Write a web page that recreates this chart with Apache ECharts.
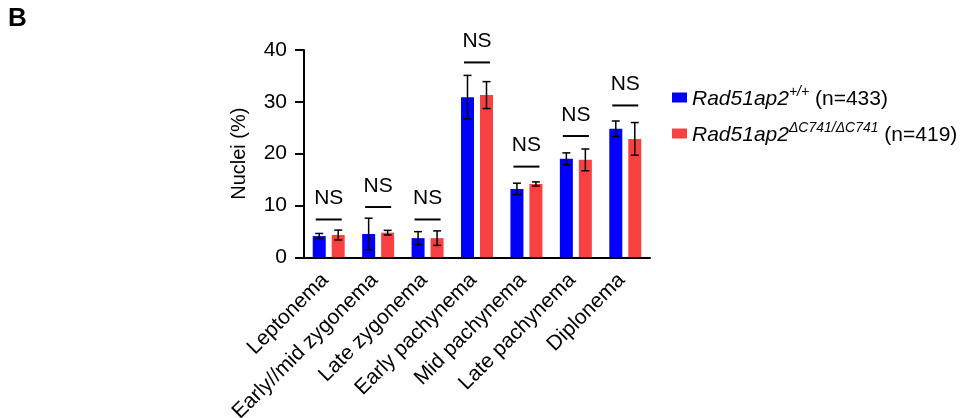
<!DOCTYPE html>
<html>
<head>
<meta charset="utf-8">
<script src="https://cdn.jsdelivr.net/npm/echarts@6/dist/echarts.min.js"></script>
<style>
html,body{margin:0;padding:0;background:#fff;}
#chart{width:964px;height:418px;}
</style>
</head>
<body>
<div id="chart"></div>
<script>
var categories = ['Leptonema', 'Early//mid zygonema', 'Late zygonema', 'Early pachynema', 'Mid pachynema', 'Late pachynema', 'Diplonema'];
var wtMean = [4.1, 4.5, 3.7, 30.9, 13.2, 19.0, 24.8];
var wtSd = [0.5, 3.05, 1.25, 4.2, 1.1, 1.15, 1.5];
var mutMean = [4.3, 4.75, 3.7, 31.3, 14.15, 18.8, 22.85];
var mutSd = [0.95, 0.45, 1.4, 2.6, 0.4, 2.1, 3.15];
var nsHeight = [7.3, 9.7, 7.3, 37.6, 17.5, 23.4, 29.3];
var nsLabel = 'NS';
var yTicks = [0, 10, 20, 30, 40];
var seriesNames = ['wt', 'mut'];
var legendParts = {
  wt: {gene: 'Rad51ap2', sup: '+/+', n: ' (n=433)'},
  mut: {gene: 'Rad51ap2', sup: '\u0394C741/\u0394C741', n: ' (n=419)'}
};

var FONT = 'Liberation Sans, Arial, sans-serif';
var BLUE = '#0000FF';
var RED = '#F94141';
var BAR_W = 13;
var OFFSET = 9.5;

function errData(means, sds) {
  return means.map(function (m, i) { return [i, m, sds[i]]; });
}

function errRenderer(dx) {
  return function (params, api) {
    var i = api.value(0), m = api.value(1), s = api.value(2);
    var top = api.coord([i, m + s]);
    var bot = api.coord([i, m - s]);
    var x = top[0] + dx;
    var cap = 4;
    var st = {stroke: '#000', lineWidth: 1.5};
    return {
      type: 'group',
      children: [
        {type: 'line', shape: {x1: x, y1: top[1], x2: x, y2: bot[1]}, style: st},
        {type: 'line', shape: {x1: x - cap, y1: top[1], x2: x + cap, y2: top[1]}, style: st},
        {type: 'line', shape: {x1: x - cap, y1: bot[1], x2: x + cap, y2: bot[1]}, style: st}
      ]
    };
  };
}

var chart = echarts.init(document.getElementById('chart'), null, {renderer: 'canvas'});
chart.setOption({
  animation: false,
  textStyle: {fontFamily: FONT},
  graphic: [{
    type: 'text', left: 8, top: 6,
    style: {text: 'B', font: 'bold 26px ' + FONT, fill: '#000'}
  }],
  grid: {left: 304, width: 346, top: 50, bottom: 160.7, containLabel: false, outerBoundsMode: 'none'},
  legend: {
    orient: 'vertical',
    left: 667, top: 80,
    itemWidth: 15, itemHeight: 10, itemGap: 11,
    icon: 'rect',
    data: seriesNames,
    formatter: function (name) {
      var p = legendParts[name];
      return '{g|' + p.gene + '}{s|' + p.sup + '}{n|' + p.n + '}';
    },
    textStyle: {
      fontFamily: FONT,
      padding: [0, 0, 0, 0],
      rich: {
        g: {fontFamily: FONT, fontStyle: 'italic', fontSize: 21, color: '#000', verticalAlign: 'bottom', lineHeight: 25},
        s: {fontFamily: FONT, fontStyle: 'italic', fontSize: 14, color: '#000', verticalAlign: 'top', lineHeight: 20},
        n: {fontFamily: FONT, fontSize: 21, color: '#000', verticalAlign: 'bottom', lineHeight: 25}
      }
    }
  },
  xAxis: {
    type: 'category',
    data: categories,
    axisLine: {lineStyle: {color: '#000', width: 2}},
    axisTick: {alignWithLabel: true, length: 8, lineStyle: {color: '#000', width: 2}},
    axisLabel: {rotate: 45, interval: 0, margin: 16, padding: [0, 5, 0, 0], fontSize: 21, color: '#000', fontFamily: FONT}
  },
  yAxis: {
    type: 'value',
    min: yTicks[0], max: yTicks[yTicks.length - 1], interval: 10,
    name: 'Nuclei (%)',
    nameLocation: 'middle',
    nameGap: 55,
    nameTextStyle: {fontSize: 20, color: '#000', fontFamily: FONT},
    axisLine: {show: true, lineStyle: {color: '#000', width: 2}},
    axisTick: {show: true, length: 9, lineStyle: {color: '#000', width: 2}},
    axisLabel: {margin: 17, fontSize: 21, color: '#000', fontFamily: FONT},
    splitLine: {show: false}
  },
  series: [
    {name: 'wt', type: 'bar', data: wtMean, barWidth: BAR_W, barGap: '46%', itemStyle: {color: BLUE}},
    {name: 'mut', type: 'bar', data: mutMean, barWidth: BAR_W, barGap: '46%', itemStyle: {color: RED}},
    {type: 'custom', data: errData(wtMean, wtSd), renderItem: errRenderer(-OFFSET), z: 5, silent: true},
    {type: 'custom', data: errData(mutMean, mutSd), renderItem: errRenderer(OFFSET), z: 5, silent: true},
    {
      type: 'custom', z: 5, silent: true,
      data: nsHeight.map(function (h, i) { return [i, h]; }),
      renderItem: function (params, api) {
        var p = api.coord([api.value(0), api.value(1)]);
        return {
          type: 'group',
          children: [
            {type: 'line', shape: {x1: p[0] - 13, y1: p[1], x2: p[0] + 13, y2: p[1]}, style: {stroke: '#000', lineWidth: 2}},
            {type: 'text', x: p[0], y: p[1] - 21, style: {text: nsLabel, font: '21px ' + FONT, fill: '#000', align: 'center', verticalAlign: 'middle'}}
          ]
        };
      }
    }
  ]
});
</script>
</body>
</html>
